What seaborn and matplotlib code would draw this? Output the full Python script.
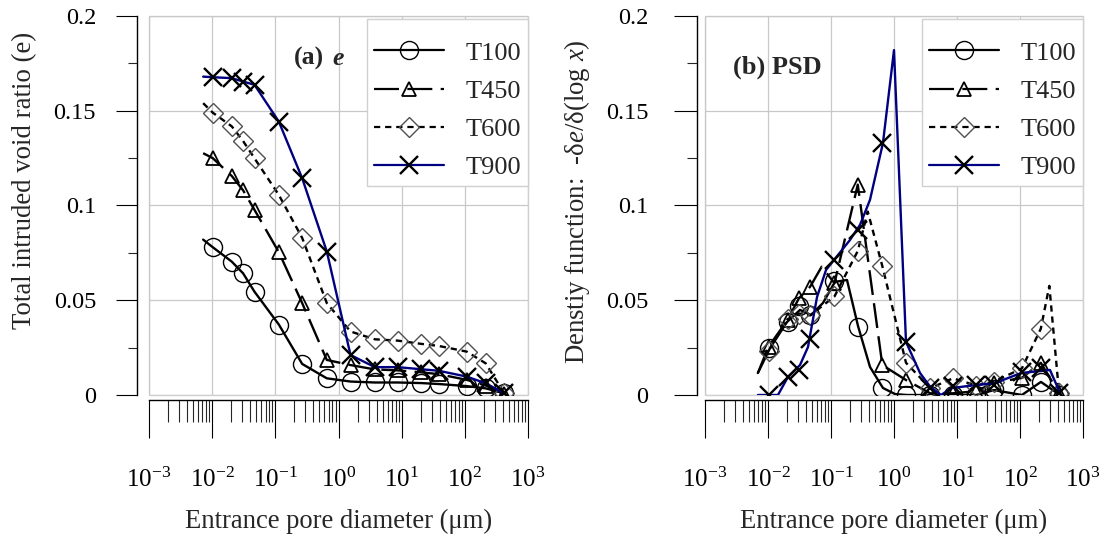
"""
Porosimetria (MIP): razao de vazios intrudida e funcao densidade (PSD)
para as amostras T100, T450, T600 e T900.
"""

import math
import matplotlib
matplotlib.use('Agg')
import matplotlib.pyplot as plt
from matplotlib.lines import Line2D
from matplotlib.patches import Rectangle
from matplotlib.ticker import FixedLocator, LogLocator, NullFormatter, MultipleLocator, FuncFormatter
import seaborn as sns

# diametros de entrada dos pontos medidos (um) -> marcadores
diam = [0.0102, 0.0204, 0.0309, 0.0468, 0.1135, 0.266, 0.653, 1.55, 3.76, 8.61, 20.2, 38.5, 107, 214, 417]

# (a) razao de vazios intrudida total
e_t100 = [0.078, 0.0704, 0.0642, 0.0545, 0.0372, 0.0164, 0.0088, 0.0071, 0.0066, 0.0066, 0.0063, 0.0058, 0.0047, 0.0035, 0.0009]
e_t450 = [0.125, 0.1156, 0.108, 0.0977, 0.0754, 0.0485, 0.0185, 0.0158, 0.0135, 0.013, 0.012, 0.011, 0.008, 0.005, 0.0005]
e_t600 = [0.149, 0.1418, 0.134, 0.1249, 0.1056, 0.0829, 0.0485, 0.0335, 0.0294, 0.0287, 0.027, 0.0259, 0.0229, 0.0167, 0.0011]
e_t900 = [0.1677, 0.1672, 0.1654, 0.1637, 0.1443, 0.1144, 0.0757, 0.0211, 0.0147, 0.0147, 0.0136, 0.0128, 0.0097, 0.0062, 0.0009]
# as curvas comecam um pouco antes do primeiro marcador
e_start_d = 0.0072
e_start = [0.082, 0.1276, 0.154, 0.168]

# (b) PSD - marcadores
psd_t100 = [0.025, 0.0387, 0.047, 0.042, 0.060, 0.036, 0.0035, 0, 0, 0, 0, 0.003, 0, 0.007, 0]
psd_t450 = [0.0255, 0.0396, 0.051, 0.0572, 0.059, 0.111, 0.0158, 0.0079, 0.0009, 0.0009, 0.002, 0.0065, 0.009, 0.017, 0.001]
psd_t600 = [0.0232, 0.040, 0.043, 0.042, 0.052, 0.076, 0.068, 0.017, 0.0036, 0.0088, 0.005, 0.007, 0.014, 0.035, 0.0011]
psd_t900 = [0, 0.0097, 0.0132, 0.0293, 0.0713, 0.0871, 0.133, 0.028, 0.0035, 0.005, 0.0053, 0.0053, 0.0123, 0.0141, 0.0009]

# (b) PSD - curvas (mais pontos que os marcadores)
line_t100_x = [0.0069, 0.0108, 0.020, 0.0322, 0.0482, 0.0747, 0.1156, 0.1795, 0.2685, 0.416, 0.668, 1.04, 1.61, 20.2, 38.5, 107, 215, 431]
line_t100_y = [0.0116, 0.0248, 0.0385, 0.0449, 0.0422, 0.0486, 0.0597, 0.0607, 0.0364, 0.0148, 0.0037, 0.0005, 0, 0, 0.0026, 0, 0.0069, 0]
line_t450_x = [0.0069, 0.0102, 0.0204, 0.0309, 0.0468, 0.0711, 0.1135, 0.266, 0.653, 1.55, 3.76, 8.61, 20.2, 38.5, 107, 214, 417]
line_t450_y = [0.0116, 0.0255, 0.0396, 0.051, 0.0572, 0.0677, 0.059, 0.111, 0.0158, 0.0079, 0.0009, 0.0009, 0.002, 0.0065, 0.009, 0.017, 0.001]
line_t600_x = [0.0075, 0.0102, 0.0204, 0.0309, 0.0468, 0.1135, 0.266, 0.383, 0.653, 1.55, 3.76, 8.61, 20.2, 38.5, 107, 214, 292, 417]
line_t600_y = [0.0227, 0.0232, 0.040, 0.043, 0.042, 0.052, 0.076, 0.0968, 0.068, 0.017, 0.0036, 0.0088, 0.005, 0.007, 0.014, 0.035, 0.0576, 0.0011]
line_t900_x = [0.00693, 0.0144, 0.0207, 0.0322, 0.0431, 0.06, 0.0834, 0.2, 0.289, 0.416, 0.668, 1.0, 1.55, 2.59, 3.72, 5.57, 8.3, 20.7, 40.1, 104, 299, 447]
line_t900_y = [0, 0, 0.0095, 0.0158, 0.0253, 0.0517, 0.066, 0.0818, 0.0898, 0.103, 0.133, 0.182, 0.028, 0.0116, 0.0045, 0, 0.0037, 0.0053, 0.0063, 0.0116, 0.0132, 0]

labels = ['T100', 'T450', 'T600', 'T900']

# estilo de cada serie
styles = [
    dict(color='black', marker='o', ms=13, mec='black', mew=1.0, dashes=None),
    dict(color='black', marker='^', ms=10.5, mec='black', mew=1.3, dashes=(18, 6)),
    dict(color='black', marker='D', ms=10.5, mec='#505050', mew=1.0, dashes=(4.5, 3.5)),
    dict(color='#000080', marker='x', ms=13.5, mec='black', mew=1.7, dashes=None),
]

sns.set_theme(style='white')
plt.rcParams['font.family'] = ['Liberation Serif', 'DejaVu Serif']
plt.rcParams['mathtext.fontset'] = 'custom'
plt.rcParams['mathtext.rm'] = 'Liberation Serif'
plt.rcParams['mathtext.it'] = 'Liberation Serif:italic'
plt.rcParams['mathtext.bf'] = 'Liberation Serif:bold'
plt.rcParams['lines.scale_dashes'] = False

fig = plt.figure(figsize=(11.07, 5.37), dpi=100)
W, H = 1107, 537
ax1 = fig.add_axes([149 / W, 1 - 395 / H, 379 / W, 379 / H])
ax2 = fig.add_axes([705 / W, 1 - 395 / H, 378 / W, 379 / H])


def draw_series(ax, lx, ly, mx, my, st):
    kw = dict(color=st['color'], lw=1.7)
    if st['dashes'] is not None:
        kw['dashes'] = st['dashes']
    sns.lineplot(x=lx, y=ly, ax=ax, sort=False, **kw)
    sns.lineplot(x=mx, y=my, ax=ax, sort=False, linestyle='', marker=st['marker'],
                 ms=st['ms'], mfc='none', mec=st['mec'], mew=st['mew'])


e_series = [e_t100, e_t450, e_t600, e_t900]
for i, ys in enumerate(e_series):
    draw_series(ax1, [e_start_d] + diam, [e_start[i]] + ys, diam, ys, styles[i])

psd_lines = [(line_t100_x, line_t100_y), (line_t450_x, line_t450_y),
             (line_t600_x, line_t600_y), (line_t900_x, line_t900_y)]
psd_marks = [psd_t100, psd_t450, psd_t600, psd_t900]
for i in range(4):
    draw_series(ax2, psd_lines[i][0], psd_lines[i][1], diam, psd_marks[i], styles[i])


def pow_label(v, pos):
    return r'$\mathregular{10^{%d}}$' % round(math.log10(v))


for ax, yoff, ymaj, ymin, ypad in [(ax1, 8.6, 15, 6.5, 14.5), (ax2, 5.8, 16.5, 7, 18.5)]:
    ax.set_xscale('log')
    ax.set_xlim(1e-3, 1e3)
    ax.set_ylim(0, 0.2)
    ax.xaxis.set_major_locator(FixedLocator([1e-3, 1e-2, 1e-1, 1, 1e1, 1e2, 1e3]))
    ax.xaxis.set_major_formatter(FuncFormatter(pow_label))
    ax.xaxis.set_minor_locator(LogLocator(base=10, subs=range(2, 10), numticks=20))
    ax.xaxis.set_minor_formatter(NullFormatter())
    ax.yaxis.set_major_locator(MultipleLocator(0.05))
    ax.yaxis.set_minor_locator(MultipleLocator(0.025))
    ax.yaxis.set_major_formatter(FuncFormatter(lambda v, p: '%g' % round(v, 3)))
    ax.grid(True, which='major', color='#c8c8c8', lw=0.9)
    for s in ['top', 'right']:
        ax.spines[s].set_visible(False)
    ax.spines['left'].set_position(('outward', yoff))
    ax.spines['bottom'].set_position(('outward', 3.6))
    for s in ['left', 'bottom']:
        ax.spines[s].set_color('black')
        ax.spines[s].set_linewidth(1.0)
    ax.add_patch(Rectangle((0, 0), 1, 1, transform=ax.transAxes, fill=False,
                           ec='#d0d0d0', lw=1.0, zorder=0.5, clip_on=False))
    ax.tick_params(axis='x', which='major', direction='out', length=27, width=0.8,
                   pad=22, labelsize=18, colors='black', bottom=True)
    ax.tick_params(axis='x', which='minor', direction='out', length=16, width=0.8, bottom=True)
    ax.tick_params(axis='y', which='major', direction='out', length=ymaj, width=0.8,
                   pad=ypad, labelsize=17.5, colors='black', left=True)
    ax.tick_params(axis='y', which='minor', direction='out', length=ymin, width=0.8, left=True)
    ax.set_xlabel('Entrance pore diameter (\u03bcm)', fontsize=19.2)
    ax.xaxis.set_label_coords(0.5, -0.30)

    handles = []
    for st, lab in zip(styles, labels):
        h = Line2D([], [], color=st['color'], lw=1.6, marker=st['marker'], ms=st['ms'],
                   mfc='none', mec=st['mec'], mew=st['mew'])
        if st['dashes'] is not None:
            h.set_dashes(st['dashes'])
        handles.append(h)
    leg = ax.legend(handles, labels, loc='upper right', bbox_to_anchor=(1.0, 0.993),
                    borderaxespad=0, fontsize=19, handlelength=2.65, handletextpad=0.83,
                    labelspacing=0.56, borderpad=0.25, fancybox=False, framealpha=1,
                    title=' ', title_fontsize=1)
    leg.get_frame().set_edgecolor('#d0d0d0')
    leg.get_frame().set_linewidth(1.0)

ax1.set_ylabel('Total intruded void ratio (e)', fontsize=19.3)
ax1.yaxis.set_label_coords(-0.296, 0.565)
ax2.set_ylabel('Denstiy function:  -\u03b4$\\mathit{e}$/\u03b4(log $\\mathit{x}$)', fontsize=19.3)
ax2.yaxis.set_label_coords(-0.299, 0.51)

ax1.text(0.383, 0.887, '(a)', transform=ax1.transAxes, fontsize=18.5, fontweight='bold', va='center')
ax1.text(0.483, 0.887, 'e', transform=ax1.transAxes, fontsize=18.5, fontweight='bold',
         style='italic', va='center')
ax2.text(0.074, 0.864, '(b) PSD', transform=ax2.transAxes, fontsize=19, fontweight='bold', va='center')

fig.savefig('out.png', dpi=100)
